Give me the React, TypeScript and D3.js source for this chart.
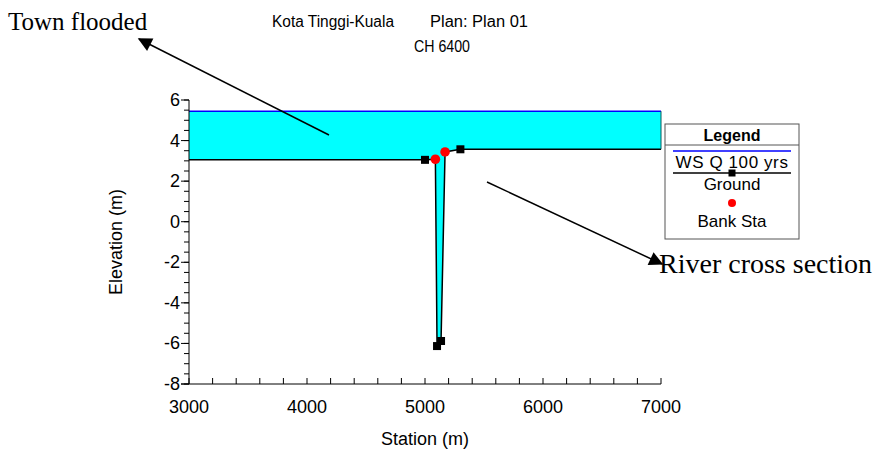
import React from "react";
import * as d3 from "d3";

const groundStations = [2500, 5000, 5088, 5102, 5136, 5170, 5300, 7500];
const groundElev = [3.05, 3.05, 3.08, -6.13, -5.88, 3.44, 3.57, 3.57];
const markerStations = [5000, 5102, 5136, 5300];
const markerElev = [3.05, -6.13, -5.88, 3.57];
const bankStations = [5088, 5170];
const bankElev = [3.08, 3.44];
const wsElev = 5.45;
const xTicks = [3000, 4000, 5000, 6000, 7000];
const yTicks = [-8, -6, -4, -2, 0, 2, 4, 6];
const legendLabels = ["WS Q 100 yrs", "Ground", "Bank Sta"];

const W = 887, H = 451;
const L = 189, R = 661, T = 100, B = 384;

export default function App() {
  const x = d3.scaleLinear().domain([3000, 7000]).range([L, R]);
  const y = d3.scaleLinear().domain([-8, 6]).range([B, T]);
  const ground = groundStations.map((s, i) => ({ s, e: groundElev[i] }));
  const line = d3.line<{ s: number; e: number }>().x(d => x(d.s)).y(d => y(d.e));
  const area = d3.area<{ s: number; e: number }>()
    .x(d => x(d.s))
    .y0(d => y(Math.min(d.e, wsElev)))
    .y1(() => y(wsElev));
  const xMinor = d3.range(3000, 7001, 200);
  const yMinor = d3.range(-8, 6.01, 0.5);
  const sans = "'Liberation Sans', Arial, sans-serif";
  const serif = "'Liberation Serif', 'Times New Roman', serif";
  const lgX = 665, lgY = 124, lgW = 134, lgH = 115;
  const cx = lgX + lgW / 2;
  return (
    <svg width={W} height={H} style={{ position: "absolute", left: 0, top: 0, background: "#fff" }}>
      <defs>
        <clipPath id="plot">
          <rect x={L} y={T - 5} width={R - L} height={B - T + 5} />
        </clipPath>
        <marker id="arr" viewBox="0 0 10 10" refX="9" refY="5" markerWidth="18" markerHeight="14" orient="auto" markerUnits="userSpaceOnUse">
          <path d="M0,0 L10,5 L0,10 z" fill="#000" />
        </marker>
      </defs>
      <text x={8} y={30} fontFamily={serif} fontSize={25}>Town flooded</text>
      <text x={659} y={273} fontFamily={serif} fontSize={28}>River cross section</text>
      <text x={272} y={27} fontFamily={sans} fontSize={16} textLength={122} lengthAdjust="spacingAndGlyphs">Kota Tinggi-Kuala</text>
      <text x={430} y={27} fontFamily={sans} fontSize={16} textLength={98} lengthAdjust="spacingAndGlyphs">Plan: Plan 01</text>
      <text x={414} y={52} fontFamily={sans} fontSize={16} textLength={56} lengthAdjust="spacingAndGlyphs">CH 6400</text>

      <g clipPath="url(#plot)">
        <path d={area(ground) || ""} fill="#00ffff" stroke="none" />
        <line x1={x(3000)} x2={x(7000)} y1={y(wsElev)} y2={y(wsElev)} stroke="#0000ff" strokeWidth={1.5} />
        <path d={line(ground) || ""} fill="none" stroke="#000" strokeWidth={1.5} />
      </g>
      <line x1={R} x2={R} y1={y(wsElev)} y2={y(groundElev[6])} stroke="#0a5a5a" strokeWidth={1} />
      {markerStations.map((s, i) => (
        <rect key={i} x={x(s) - 4} y={y(markerElev[i]) - 4} width={8} height={8} fill="#000" />
      ))}
      {bankStations.map((s, i) => (
        <circle key={i} cx={x(s)} cy={y(bankElev[i])} r={4.8} fill="#ff0000" />
      ))}

      {/* axes */}
      <line x1={L} x2={L} y1={T} y2={B} stroke="#000" />
      <line x1={L - 8} x2={R} y1={B} y2={B} stroke="#000" />
      {yMinor.map((v, i) => (
        <line key={"ym" + i} x1={L - 5} x2={L} y1={y(v)} y2={y(v)} stroke="#000" />
      ))}
      {yTicks.map(v => (
        <g key={"y" + v}>
          <line x1={L - 8} x2={L} y1={y(v)} y2={y(v)} stroke="#000" />
          <text x={L - 9} y={y(v) + 6} fontFamily={sans} fontSize={18} textAnchor="end">{v}</text>
        </g>
      ))}
      {xMinor.map((v, i) => (
        <line key={"xm" + i} x1={x(v)} x2={x(v)} y1={B} y2={B - 6} stroke="#000" />
      ))}
      {xTicks.map(v => (
        <text key={"x" + v} x={x(v)} y={B + 29} fontFamily={sans} fontSize={18} textAnchor="middle">{v}</text>
      ))}
      <text x={425} y={445} fontFamily={sans} fontSize={18} textAnchor="middle">Station (m)</text>
      <text transform={`translate(122,${(T + B) / 2}) rotate(-90)`} fontFamily={sans} fontSize={18} textAnchor="middle">Elevation (m)</text>

      {/* legend */}
      <rect x={lgX} y={lgY} width={lgW} height={lgH} fill="#fff" stroke="#555" strokeWidth={1} />
      <text x={cx} y={lgY + 17} fontFamily={sans} fontSize={16} fontWeight="bold" textAnchor="middle">Legend</text>
      <line x1={lgX} x2={lgX + lgW} y1={lgY + 21} y2={lgY + 21} stroke="#555" />
      <line x1={lgX + 8} x2={lgX + lgW - 8} y1={lgY + 27} y2={lgY + 27} stroke="#0000ff" strokeWidth={1.5} />
      <text x={cx} y={lgY + 44} fontFamily={sans} fontSize={17} textAnchor="middle" letterSpacing={0.6}>{legendLabels[0]}</text>
      <line x1={lgX + 8} x2={lgX + lgW - 8} y1={lgY + 49} y2={lgY + 49} stroke="#000" strokeWidth={1.5} />
      <rect x={cx - 3.5} y={lgY + 45.5} width={7} height={7} fill="#000" />
      <text x={cx} y={lgY + 66} fontFamily={sans} fontSize={17} textAnchor="middle">{legendLabels[1]}</text>
      <circle cx={cx} cy={lgY + 79} r={4} fill="#ff0000" />
      <text x={cx} y={lgY + 103} fontFamily={sans} fontSize={17} textAnchor="middle">{legendLabels[2]}</text>

      {/* annotation arrows */}
      <line x1={329} y1={135} x2={139} y2={39} stroke="#000" strokeWidth={1.5} markerEnd="url(#arr)" />
      <line x1={487} y1={182} x2={662} y2={264} stroke="#000" strokeWidth={1.5} markerEnd="url(#arr)" />
    </svg>
  );
}
